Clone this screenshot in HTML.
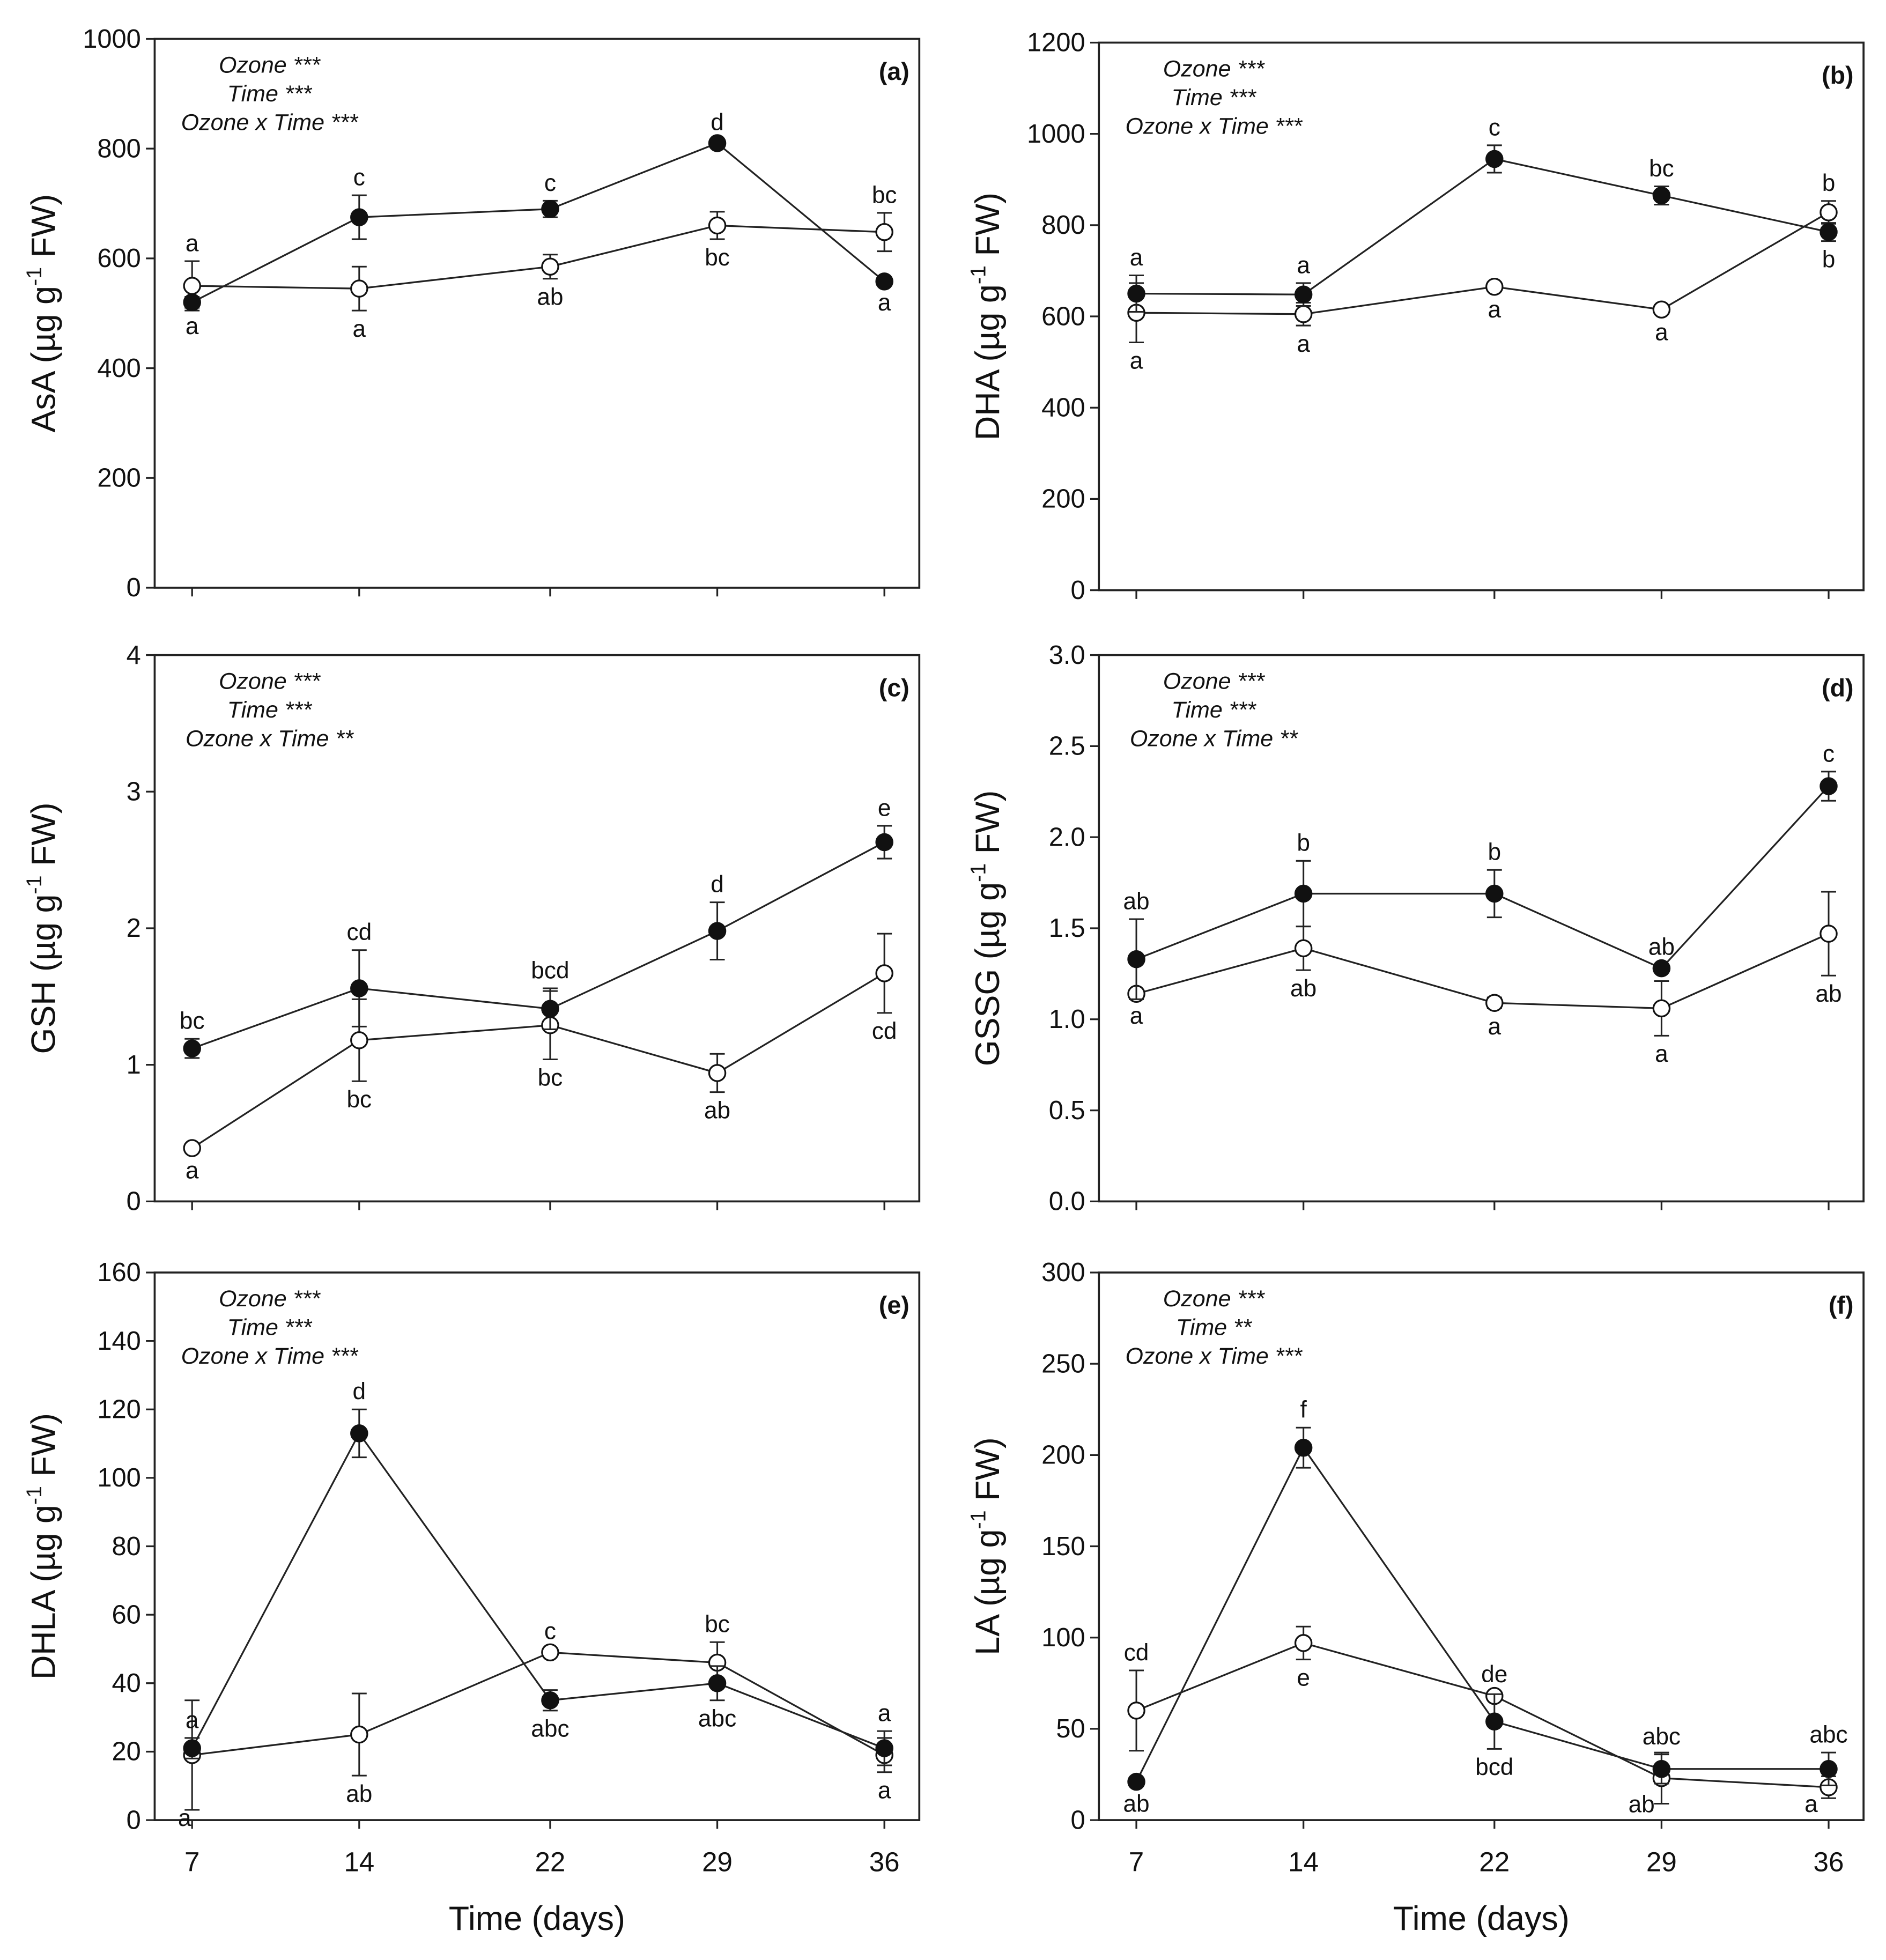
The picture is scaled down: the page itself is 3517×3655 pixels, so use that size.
<!DOCTYPE html>
<html><head><meta charset="utf-8"><style>
html,body{margin:0;padding:0;background:#fff}
svg{display:block}
text{font-family:"Liberation Sans",sans-serif;fill:#111}
</style></head><body>
<svg id="fig" width="3517" height="3655" viewBox="0 0 1512 1571" xmlns="http://www.w3.org/2000/svg"></svg>
<script>
const days=[7,14,22,29,36];
const aClosed=[520,675,690,810,558], aClosedErr=[10,40,15,5,5];
const aOpen=[550,545,585,660,648], aOpenErr=[45,40,22,25,35];
const bClosed=[650,648,945,865,785], bClosedErr=[40,25,30,20,20];
const bOpen=[608,605,665,615,828], bOpenErr=[65,25,10,10,25];
const cClosed=[1.12,1.56,1.41,1.98,2.63], cClosedErr=[0.07,0.28,0.15,0.21,0.12];
const cOpen=[0.39,1.18,1.29,0.94,1.67], cOpenErr=[0.03,0.3,0.25,0.14,0.29];
const dClosed=[1.33,1.69,1.69,1.28,2.28], dClosedErr=[0.22,0.18,0.13,0.02,0.08];
const dOpen=[1.14,1.39,1.09,1.06,1.47], dOpenErr=[0.02,0.12,0.03,0.15,0.23];
const eClosed=[21,113,35,40,21], eClosedErr=[3,7,3,5,5];
const eOpen=[19,25,49,46,19], eOpenErr=[16,12,1,6,5];
const fClosed=[21,204,54,28,28], fClosedErr=[2,11,15,8,9];
const fOpen=[60,97,68,23,18], fOpenErr=[22,9,2,14,6];
const aTicks=[0,200,400,600,800,1000], bTicks=[0,200,400,600,800,1000,1200];
const cTicks=[0,1,2,3,4], dTicks=["0.0","0.5","1.0","1.5","2.0","2.5","3.0"];
const eTicks=[0,20,40,60,80,100,120,140,160], fTicks=[0,50,100,150,200,250,300];
const panels=[
 {id:'a',L:124,R:737,T:31,B:471,max:1000,ticks:aTicks,yl:'AsA',c:aClosed,ce:aClosedErr,o:aOpen,oe:aOpenErr,
  cl:[['a',1],['c',-1],['c',-1],['d',-1],['a',1]],ol:[['a',-1],['a',1],['ab',1],['bc',1],['bc',-1]],stats:['***','***','***']},
 {id:'b',L:881,R:1494,T:34,B:473,max:1200,ticks:bTicks,yl:'DHA',c:bClosed,ce:bClosedErr,o:bOpen,oe:bOpenErr,
  cl:[['a',-1],['a',-1],['c',-1],['bc',-1],['b',1]],ol:[['a',1],['a',1],['a',1],['a',1],['b',-1]],stats:['***','***','***']},
 {id:'c',L:124,R:737,T:525,B:963,max:4,ticks:cTicks,yl:'GSH',c:cClosed,ce:cClosedErr,o:cOpen,oe:cOpenErr,
  cl:[['bc',-1],['cd',-1],['bcd',-1],['d',-1],['e',-1]],ol:[['a',1],['bc',1],['bc',1],['ab',1],['cd',1]],stats:['***','***','**']},
 {id:'d',L:881,R:1494,T:525,B:963,max:3,ticks:dTicks,yl:'GSSG',c:dClosed,ce:dClosedErr,o:dOpen,oe:dOpenErr,
  cl:[['ab',-1],['b',-1],['b',-1],['ab',-1],['c',-1]],ol:[['a',1],['ab',1],['a',1],['a',1],['ab',1]],stats:['***','***','**']},
 {id:'e',L:124,R:737,T:1020,B:1459,max:160,ticks:eTicks,yl:'DHLA',c:eClosed,ce:eClosedErr,o:eOpen,oe:eOpenErr,
  cl:[['a',-1],['d',-1],['abc',1],['abc',1],['a',-1]],ol:[['a',1,-6,-8],['ab',1],['c',-1],['bc',-1],['a',1]],stats:['***','***','***'],xl:true},
 {id:'f',L:881,R:1494,T:1020,B:1459,max:300,ticks:fTicks,yl:'LA',c:fClosed,ce:fClosedErr,o:fOpen,oe:fOpenErr,
  cl:[['ab',1],['f',-1],['bcd',1],['abc',-1],['abc',-1]],ol:[['cd',-1],['e',1],['de',-1],['ab',1,-16,-14],['a',1,-14,-10]],stats:['***','**','***'],xl:true}
];
const svg=document.getElementById('fig');
const NS='http://www.w3.org/2000/svg';
function mk(tag,attrs,parent,text){const e=document.createElementNS(NS,tag);for(const k in attrs)e.setAttribute(k,attrs[k]);if(text!==undefined)e.textContent=text;(parent||svg).appendChild(e);return e;}
panels.forEach(p=>{
 const g=mk('g',{});
 
 
 const x0=p.L+30, x1=p.R-28;
 const xs=d=>x0+(d-7)/(36-7)*(x1-x0);
 const ys=v=>p.B-v/p.max*(p.B-p.T);
 const fr=mk('rect',{x:p.L,y:p.T,width:p.R-p.L,height:p.B-p.T,fill:'none',stroke:'#222','stroke-width':1.6},g);
 
 
 p.ticks.forEach(t=>{const y=ys(+t);
  mk('line',{x1:p.L-7,x2:p.L,y1:y,y2:y,stroke:'#222','stroke-width':1.4},g);
  const tl=mk('text',{x:p.L-11,y:y+7,'text-anchor':'end','font-size':21},g,String(t));
  
  
 });
 days.forEach(d=>{const x=xs(d);
  mk('line',{x1:x,x2:x,y1:p.B,y2:p.B+7,stroke:'#222','stroke-width':1.4},g);
  if(p.xl){const xl=mk('text',{x:x,y:p.B+41,'text-anchor':'middle','font-size':22},g,String(d));
   
   }
 });
 if(p.xl){const xt=mk('text',{x:(p.L+p.R)/2,y:p.B+88,'text-anchor':'middle','font-size':27},g,'Time (days)');
  
  }
 const cy=(p.T+p.B)/2, cx=p.L-80;
 const yt=mk('text',{x:cx,y:cy,'text-anchor':'middle','font-size':27,transform:`rotate(-90 ${cx} ${cy})`},g);
 
 
 mk('tspan',{},yt,p.yl+' (\u00b5g g');
 mk('tspan',{dy:-11,'font-size':17},yt,'-1');
 mk('tspan',{dy:11},yt,' FW)');
 const sx=p.L+92;
 ['Ozone '+p.stats[0],'Time '+p.stats[1],'Ozone x Time '+p.stats[2]].forEach((s,i)=>{
  const st=mk('text',{x:sx,y:p.T+27+i*23,'text-anchor':'middle','font-size':18.5,'font-style':'italic',fill:'#333'},g,s);
  
  
 });
 const pl=mk('text',{x:p.R-8,y:p.T+33,'text-anchor':'end','font-size':20,'font-weight':'bold'},g,'('+p.id+')');
 
 
 [[p.o,p.oe,'#fff',p.ol,'open'],[p.c,p.ce,'#111',p.cl,'closed']].forEach(([vals,errs,fill,labs,nm])=>{
  const pts=vals.map((v,i)=>xs(days[i])+','+ys(v)).join(' ');
  const ln=mk('polyline',{points:pts,fill:'none',stroke:'#222','stroke-width':1.4},g);
  
  
  vals.forEach((v,i)=>{const x=xs(days[i]),y=ys(v),yt2=ys(v+errs[i]),yb=ys(Math.max(0,v-errs[i]));
   mk('line',{x1:x,x2:x,y1:yt2,y2:yb,stroke:'#222','stroke-width':1.3},g);
   mk('line',{x1:x-6,x2:x+6,y1:yt2,y2:yt2,stroke:'#222','stroke-width':1.3},g);
   mk('line',{x1:x-6,x2:x+6,y1:yb,y2:yb,stroke:'#222','stroke-width':1.3},g);
   const c=mk('circle',{cx:x,cy:y,r:6.5,fill:fill,stroke:'#111','stroke-width':1.4},g);
   
   
   const [lt,dir,dx,dy]=labs[i];
   const ly=(dir<0?ys(v+errs[i])-8:ys(Math.max(0,v-errs[i]))+21)+(dy||0);
   const t=mk('text',{x:x+(dx||0),y:ly,'text-anchor':'middle','font-size':19},g,lt);
   
   
  });
 });
});
</script>
</body></html>
